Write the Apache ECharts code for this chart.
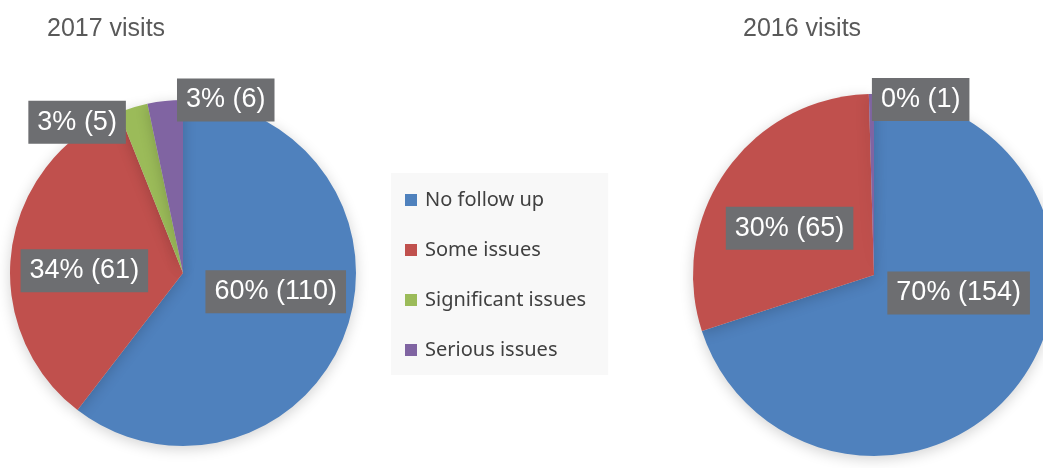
<!DOCTYPE html>
<html>
<head>
<meta charset="utf-8">
<title>Visits follow up</title>
<script src="https://cdn.jsdelivr.net/npm/echarts@6/dist/echarts.min.js"></script>
<style>
  html, body { margin: 0; padding: 0; background: #fff; }
  #chart { width: 1043px; height: 468px; }
</style>
</head>
<body>
<div id="chart"></div>
<script>
// categories and values
var categories = ['No follow up', 'Some issues', 'Significant issues', 'Serious issues'];
var visits2017 = [110, 61, 5, 6];
var visits2016 = [154, 65, 0, 1];

var colors = ['#4f81bd', '#c0504d', '#9bbb59', '#8064a2'];

// label nudges so they sit like the original (x, y in px)
var offsets2017 = [[8, -10], [-10, 10], [-80, -65], [52, -84]];
var offsets2016 = [[9, -37], [-8, 7], [0, 0], [48, -82]];

function buildData(values, offsets) {
    var arr = [];
    for (var i = 0; i < values.length; i++) {
        var item = { name: categories[i], value: values[i], label: { offset: offsets[i] } };
        if (values[i] === 0) {
            item.label.show = false;
        }
        arr.push(item);
    }
    return arr;
}

var labelStyle = {
    show: true,
    position: 'inside',
    color: '#fff',
    fontFamily: 'Liberation Sans, Arial, sans-serif',
    fontSize: 27,
    backgroundColor: '#6d6e71',
    padding: [8, 9, 8, 9],
    formatter: function (p) {
        return Math.round(p.percent) + '% (' + p.value + ')';
    }
};

var itemStyle = {
    borderWidth: 0,
    shadowBlur: 14,
    shadowColor: 'rgba(0,0,0,0.18)',
    shadowOffsetY: 3
};

var titleFont = { fontFamily: 'Liberation Sans, Arial, sans-serif', fontSize: 25, fontWeight: 'normal', color: '#595959' };

var chart = echarts.init(document.getElementById('chart'));

var option = {
    animation: false,
    color: colors,
    title: [
        { text: '2017 visits', left: 47, top: 17, padding: 0, textStyle: titleFont },
        { text: '2016 visits', left: 743, top: 17, padding: 0, textStyle: titleFont }
    ],
    legend: {
        orient: 'vertical',
        left: 391,
        top: 173,
        data: categories,
        icon: 'rect',
        itemWidth: 12,
        itemHeight: 12,
        itemGap: 30,
        backgroundColor: '#f8f8f8',
        padding: [17, 22, 15, 14],
        selectedMode: false,
        textStyle: {
            fontFamily: 'Noto Sans, Open Sans, sans-serif',
            fontSize: 20,
            lineHeight: 20,
            color: '#404040',
            padding: [0, 0, 0, 3]
        }
    },
    series: [
        {
            name: '2017 visits',
            type: 'pie',
            center: [183, 273],
            radius: 173,
            startAngle: 90,
            clockwise: true,
            label: labelStyle,
            labelLine: { show: false },
            itemStyle: itemStyle,
            emphasis: { disabled: true },
            data: buildData(visits2017, offsets2017)
        },
        {
            name: '2016 visits',
            type: 'pie',
            center: [874, 275],
            radius: 181,
            startAngle: 90,
            clockwise: true,
            label: labelStyle,
            labelLine: { show: false },
            itemStyle: itemStyle,
            emphasis: { disabled: true },
            data: buildData(visits2016, offsets2016)
        }
    ]
};

chart.setOption(option);
</script>
</body>
</html>
